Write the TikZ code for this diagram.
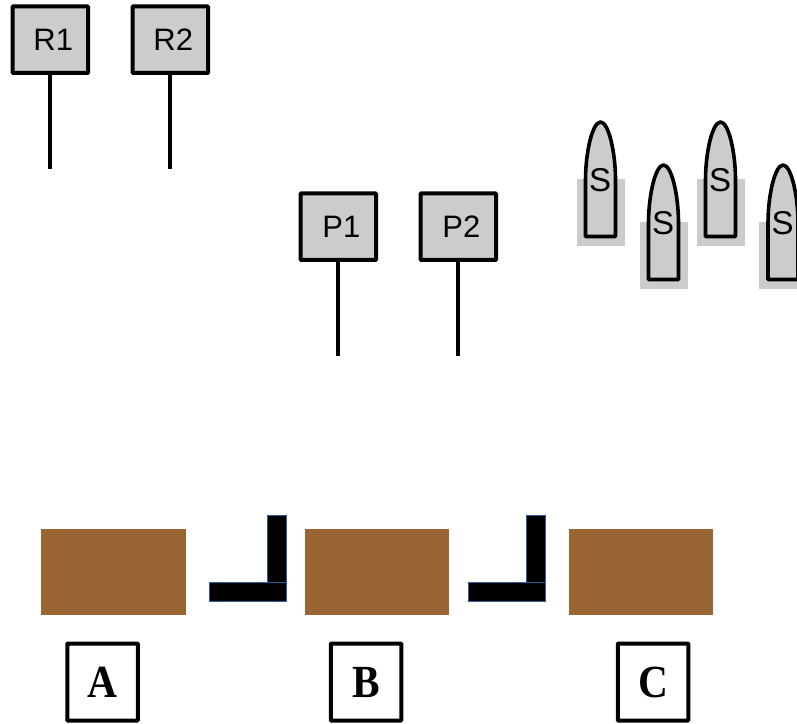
\documentclass[tikz,border=0pt]{standalone}
\usepackage{fontspec}
\setmainfont{Liberation Sans}
\newfontfamily\lblfont[FakeStretch=0.9]{Liberation Serif}
\definecolor{boxgray}{HTML}{CCCCCC}
\definecolor{brown1}{HTML}{996633}
\definecolor{edgeblue}{HTML}{2F5C9E}
\tikzset{
  tag/.style={draw=black,line width=4pt,fill=boxgray,rounded corners=0.8pt,minimum width=75.5pt,minimum height=66.5pt,inner sep=0pt,font=\fontsize{31}{33}\selectfont,text=black},
  stem/.style={draw=black,line width=3.8pt},
  shellbg/.style={fill=boxgray,draw=none,minimum width=48pt,minimum height=67pt,inner sep=0pt},
  shelltxt/.style={inner sep=0pt,font=\fontsize{33}{35}\selectfont,text=black},
  shellout/.style={draw=black,line width=3.6pt,fill=boxgray,line join=round},
  block/.style={fill=brown1,draw=none,minimum height=86pt,inner sep=0pt},
  bar/.style={fill=black,draw=edgeblue,line width=0.6pt},
  letter/.style={draw=black,line width=4pt,fill=white,rounded corners=0.8pt,minimum width=70.5pt,minimum height=77pt,inner sep=0pt,font=\lblfont\bfseries\fontsize{46}{48}\selectfont}
}
\newcommand{\shell}[4]{% name, left x, top y, bottom y
  \node[shellbg] (#1bg) at (#2+15,#4-24.5) {};
  \draw[shellout] (#2,#4) -- (#2,#3+58)
     .. controls (#2,#3+30) and (#2+7,#3) .. (#2+15,#3)
     .. controls (#2+23,#3) and (#2+30,#3+30) .. (#2+30,#3+58)
     -- (#2+30,#4) -- cycle;
  \node[shelltxt] (#1) at (#2+14.5,#3+58.5) {S};
}
\begin{document}
\begin{tikzpicture}[x=1pt,y=-1pt]
\useasboundingbox (0,0) rectangle (797,723);
\fill[white] (0,0) rectangle (797,723);
% tags with stems
\node[tag] (r1) at (50.3,39.7) {\hspace{6pt}R1};
\node[tag] (r2) at (170.3,39.7) {\hspace{6pt}R2};
\node[tag] (p1) at (338.3,226.7) {\hspace{6pt}P1};
\node[tag] (p2) at (458.3,226.7) {\hspace{6pt}P2};
\coordinate (r1e) at (50.2,169);
\coordinate (r2e) at (170.2,169);
\coordinate (p1e) at (338.2,356);
\coordinate (p2e) at (458.2,356);
\draw[stem] (r1.south -| r1e) -- (r1e);
\draw[stem] (r2.south -| r2e) -- (r2e);
\draw[stem] (p1.south -| p1e) -- (p1e);
\draw[stem] (p2.south -| p2e) -- (p2e);
% shells
\shell{s1}{585.5}{122}{236.5}
\shell{s2}{648.5}{165}{279.5}
\shell{s3}{705.5}{122}{236.5}
\shell{s4}{768}{165}{279.5}
% blocks
\node[block,minimum width=145pt] (ba) at (113.5,572.3) {};
\node[block,minimum width=144pt] (bb) at (377,572.3) {};
\node[block,minimum width=144pt] (bc) at (641,572.3) {};
% L bars
\draw[bar] (267.5,515.5) rectangle (286.5,582);
\draw[bar] (209.5,582) rectangle (286.5,601);
\draw[bar] (526.5,515.5) rectangle (545.5,582);
\draw[bar] (468.5,582) rectangle (545.5,601);
% letters
\node[letter] (la) at (102.5,682) {A};
\node[letter] (lb) at (366,682) {B};
\node[letter] (lc) at (653,682) {C};
\end{tikzpicture}
\end{document}
